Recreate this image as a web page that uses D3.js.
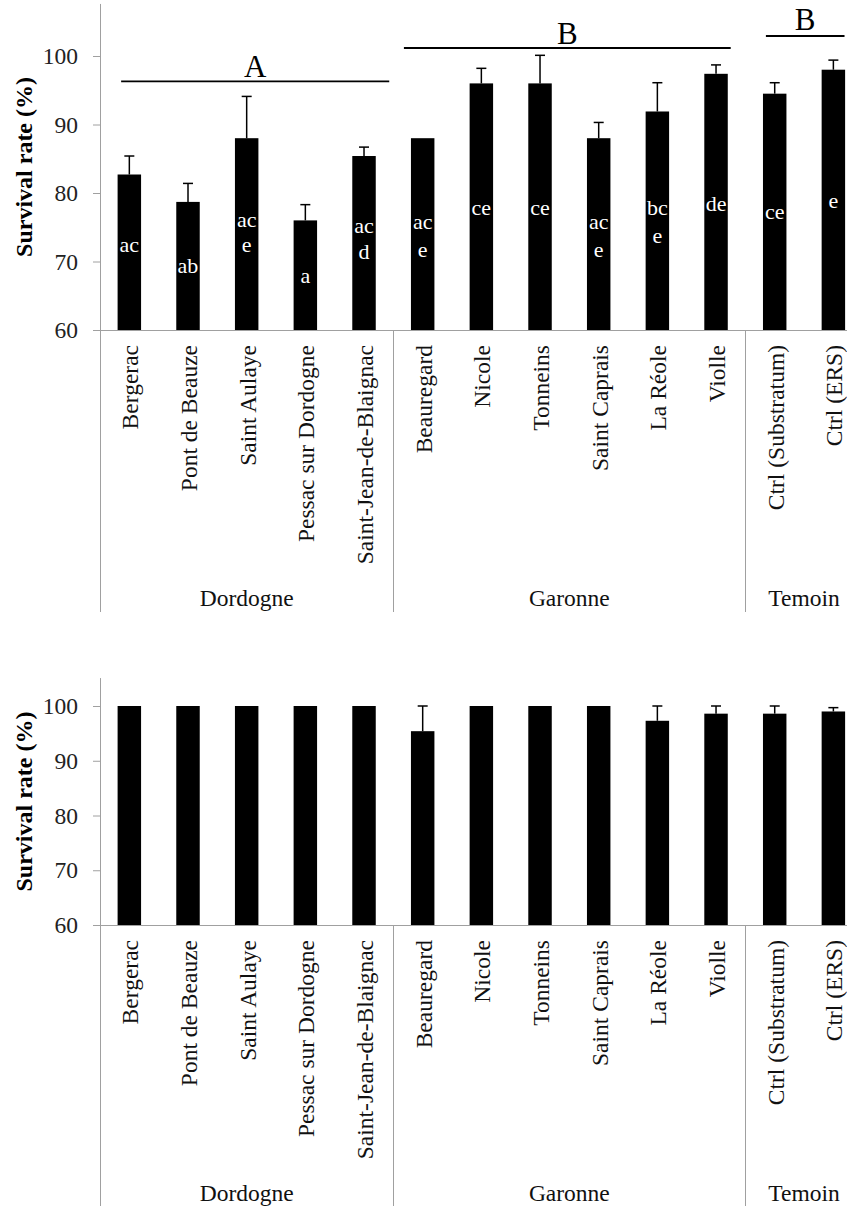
<!DOCTYPE html>
<html>
<head>
<meta charset="utf-8">
<script src="https://cdn.jsdelivr.net/npm/d3@7"></script>
<style>
  html, body { margin: 0; padding: 0; background: #fff; }
  svg { display: block; }
</style>
</head>
<body>
<svg id="chart" width="847" height="1206"></svg>
<script>
// ---------- data ----------
const categories = ["Bergerac", "Pont de Beauze", "Saint Aulaye", "Pessac sur Dordogne",
  "Saint-Jean-de-Blaignac", "Beauregard", "Nicole", "Tonneins", "Saint Caprais",
  "La Réole", "Violle", "Ctrl (Substratum)", "Ctrl (ERS)"];
const groupNames = ["Dordogne", "Garonne", "Temoin"];
const groupSizes = [5, 6, 2];
const yTicks = [60, 70, 80, 90, 100];

const topValues = [82.7, 78.7, 88.0, 76.0, 85.4, 88.0, 96.0, 96.0, 88.0, 91.9, 97.4, 94.5, 98.0];
const topErrors = [2.7, 2.7, 6.1, 2.3, 1.3, 0, 2.2, 4.1, 2.3, 4.2, 1.3, 1.6, 1.4];
const topLetters = ["ac", "ab", "ac\ne", "a", "ac\nd", "ac\ne", "ce", "ce", "ac\ne", "bc\ne", "de", "ce", "e"];
const topLetterBaselines = [[71.4], [68.3], [75.1, 71.4], [66.8], [74.1, 70.35], [74.7, 70.7],
  [76.8], [76.8], [74.7, 70.7], [76.8, 72.75], [77.4], [76.15], [77.8]];
const groupMarks = ["A", "B", "B"];
const groupMarkStart = [-0.14, 4.68, 10.85];
const groupMarkEnd = [4.43, 10.25, 12.19];
const groupMarkLineY = [96.3, 101.17, 102.92];
const groupMarkTextY = [96.98, 101.75, 103.75];

const bottomValues = [100, 100, 100, 100, 100, 95.4, 100, 100, 100, 97.3, 98.6, 98.6, 99.0];
const bottomErrors = [0, 0, 0, 0, 0, 4.6, 0, 0, 0, 2.7, 1.4, 1.4, 0.7];

// ---------- layout ----------
const FONT = "'Liberation Serif', 'DejaVu Serif', 'Times New Roman', Times, serif";
const svg = d3.select("#chart").attr("font-family", FONT);
const W = 847;
const left = 100;
const step = 58.67;
const right = left + step * categories.length;
const gray = "#a0a0a0";
const FS = 23.5;

const x = d3.scaleBand().domain(categories).range([left, right]).paddingInner(0.6).paddingOuter(0.3);
const pos = d3.scaleLinear().domain([-0.5, categories.length - 0.5]).range([left, right]);

function txt(sel) { return sel.append("text").style("font-family", FONT); }

function drawPanel(cfg) {
  const g = svg.append("g");
  const y = d3.scaleLinear().domain([60, cfg.yMax]).range([cfg.base, cfg.base - (cfg.yMax - 60) * cfg.pxPerUnit]);

  // y axis ticks + labels
  const ax = g.append("g").attr("transform", `translate(${left},0)`)
    .call(d3.axisLeft(y).tickValues(yTicks).tickSize(7).tickSizeOuter(0).tickPadding(15));
  ax.attr("font-family", FONT).attr("font-size", FS);
  ax.select(".domain").remove();
  ax.selectAll(".tick line").attr("stroke", gray).attr("stroke-width", 1);
  ax.selectAll(".tick text").style("font-family", FONT).attr("font-size", FS).attr("fill", "#222");

  // y axis line (extends into category area)
  g.append("line").attr("x1", left + 0.5).attr("x2", left + 0.5)
    .attr("y1", y.range()[1]).attr("y2", cfg.bottom).attr("stroke", gray);
  // baseline
  g.append("line").attr("x1", left).attr("x2", W)
    .attr("y1", cfg.base + 0.5).attr("y2", cfg.base + 0.5).attr("stroke", gray);

  // group separators and group names
  let acc = 0;
  groupSizes.forEach((n, i) => {
    const start = acc;
    acc += n;
    const xEnd = left + step * acc;
    if (i < groupSizes.length - 1) {
      g.append("line").attr("x1", Math.round(xEnd) + 0.5).attr("x2", Math.round(xEnd) + 0.5)
        .attr("y1", cfg.base).attr("y2", cfg.bottom).attr("stroke", gray);
    }
    const cx = (left + step * start + xEnd) / 2;
    txt(g).attr("x", cx).attr("y", cfg.base + 276)
      .attr("text-anchor", "middle").attr("font-size", FS).attr("fill", "#111")
      .text(groupNames[i]);
  });

  // category labels (rotated)
  categories.forEach(c => {
    const cx = x(c) + x.bandwidth() / 2;
    txt(g).attr("transform", `translate(${cx + 9},${cfg.base + 15}) rotate(-90)`)
      .attr("text-anchor", "end").attr("font-size", FS).attr("fill", "#111")
      .text(c);
  });

  // bars
  g.selectAll("rect.bar").data(categories).enter().append("rect")
    .attr("class", "bar")
    .attr("x", d => x(d)).attr("width", x.bandwidth())
    .attr("y", (d, i) => y(cfg.values[i]))
    .attr("height", (d, i) => y(60) - y(cfg.values[i]))
    .attr("fill", "#000");

  // error bars (upper only)
  categories.forEach((c, i) => {
    if (cfg.errors[i] <= 0) return;
    const cx = x(c) + x.bandwidth() / 2;
    const top = y(cfg.values[i] + cfg.errors[i]);
    g.append("line").attr("x1", cx).attr("x2", cx)
      .attr("y1", y(cfg.values[i])).attr("y2", top).attr("stroke", "#000").attr("stroke-width", 1.5);
    g.append("line").attr("x1", cx - 5).attr("x2", cx + 5)
      .attr("y1", top).attr("y2", top).attr("stroke", "#000").attr("stroke-width", 1.5);
  });

  // y title
  txt(g).attr("transform", `translate(32,${(y.range()[1] + cfg.base) / 2}) rotate(-90)`)
    .attr("text-anchor", "middle").attr("font-size", 24).attr("font-weight", "bold")
    .attr("fill", "#000").text("Survival rate (%)");

  return { g, y };
}

// ---------- top panel ----------
const topPanel = drawPanel({ base: 330, yMax: 107.6, pxPerUnit: 6.85, bottom: 612,
  values: topValues, errors: topErrors });

// significance letters inside bars (one text element per bar, one tspan per line)
categories.forEach((c, i) => {
  const cx = x(c) + x.bandwidth() / 2;
  const t = txt(topPanel.g).attr("text-anchor", "middle").attr("font-size", 22).attr("fill", "#fff");
  topLetters[i].split("\n").forEach((line, k) => {
    t.append("tspan").attr("x", cx).attr("y", topPanel.y(topLetterBaselines[i][k])).text(line);
  });
});

// group significance marks
groupMarks.forEach((m, i) => {
  const x1 = pos(groupMarkStart[i]), x2 = pos(groupMarkEnd[i]);
  const ly = topPanel.y(groupMarkLineY[i]);
  topPanel.g.append("line").attr("x1", x1).attr("x2", x2).attr("y1", ly).attr("y2", ly)
    .attr("stroke", "#000").attr("stroke-width", 1.8);
  txt(topPanel.g).attr("x", (x1 + x2) / 2).attr("y", topPanel.y(groupMarkTextY[i]))
    .attr("text-anchor", "middle").attr("font-size", 31).attr("fill", "#000").text(m);
});

// ---------- bottom panel ----------
drawPanel({ base: 925, yMax: 105.1, pxPerUnit: 5.475, bottom: 1206,
  values: bottomValues, errors: bottomErrors });
</script>
</body>
</html>
